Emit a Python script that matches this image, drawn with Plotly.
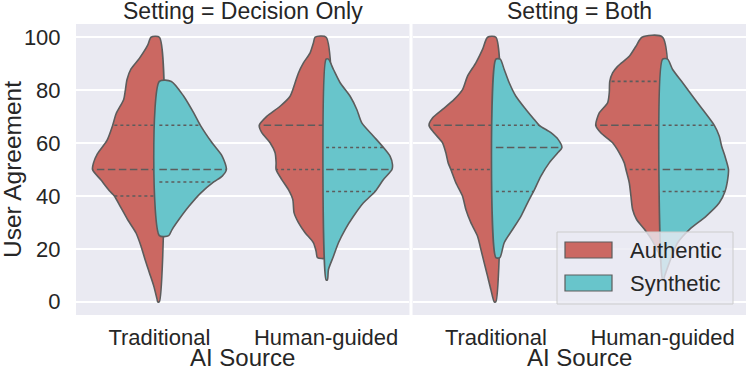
import numpy as np
import plotly.graph_objects as go
from plotly.subplots import make_subplots

settings = ["Decision Only", "Both"]
sources = ["Traditional", "Human-guided"]
groups = ["Authentic", "Synthetic"]
colors = {"Authentic": "#cb6862", "Synthetic": "#68c5cb"}
edge = "#5c5c5c"

# violin outlines: agreement level -> half width (category units)
do_trad_auth_y = [0, 1, 6, 11, 16, 21, 26, 31, 36, 40, 42, 46, 50, 52.5, 56, 61, 66.7, 71, 76.5, 80, 84, 88, 92, 97, 100]
do_trad_auth_w = [0.010, 0.014, 0.034, 0.060, 0.086, 0.110, 0.140, 0.190, 0.234, 0.270, 0.300, 0.350, 0.401,
                  0.395, 0.371, 0.314, 0.280, 0.260, 0.214, 0.204, 0.194, 0.170, 0.120, 0.070, 0.050]
do_trad_syn_y = [25, 27.3, 31, 36, 41, 45.3, 47.5, 50, 55, 60, 66.7, 71.4, 77.7, 83.3]
do_trad_syn_w = [0.056, 0.076, 0.116, 0.176, 0.246, 0.326, 0.377, 0.402, 0.377, 0.317, 0.246, 0.206, 0.146, 0.072]

do_hg_auth_y = [16.7, 19.1, 22.3, 26.1, 29.9, 33.6, 38.7, 42.4, 46.2, 50, 52.5, 56.3, 60.1, 63.9, 66.7,
                70.1, 73.9, 77.7, 82.8, 86.5, 90.3, 94.1, 97.9, 100]
do_hg_auth_w = [0.052, 0.060, 0.076, 0.126, 0.166, 0.192, 0.200, 0.226, 0.266, 0.300, 0.300, 0.306, 0.336,
                0.386, 0.401, 0.356, 0.276, 0.216, 0.186, 0.166, 0.136, 0.096, 0.076, 0.066]
do_hg_syn_y = [8.3, 12.2, 17.2, 22.3, 27.3, 32.3, 37.4, 41.7, 46.2, 50, 51.9, 55, 58.3, 62.6, 67.6,
               72.7, 77.7, 82.8, 87.8, 91.7]
do_hg_syn_w = [0.008, 0.014, 0.044, 0.074, 0.114, 0.164, 0.224, 0.294, 0.344, 0.395, 0.398, 0.384, 0.344,
               0.284, 0.214, 0.184, 0.144, 0.084, 0.044, 0.014]

both_trad_auth_y = [0, 4.6, 9.7, 14.7, 19.8, 24.8, 29.9, 34.9, 39.9, 45, 50, 52.5, 56.3, 60.1, 63.9, 66.7,
                    69.5, 72.7, 76.5, 80.2, 85.3, 90.3, 95.4, 100]
both_trad_auth_w = [0.010, 0.030, 0.050, 0.070, 0.090, 0.110, 0.150, 0.180, 0.200, 0.240, 0.270, 0.286, 0.300,
                    0.320, 0.371, 0.401, 0.380, 0.320, 0.250, 0.200, 0.170, 0.120, 0.080, 0.050]
both_trad_syn_y = [16.7, 22.3, 27.3, 32.3, 37.4, 41.7, 47.5, 52.5, 56.3, 58.3, 61.3, 63.9, 66.7, 68.9,
                   72.7, 77.7, 82.8, 87.8, 91.7]
both_trad_syn_w = [0.024, 0.050, 0.100, 0.150, 0.190, 0.226, 0.270, 0.320, 0.371, 0.396, 0.374, 0.330, 0.260,
                   0.230, 0.180, 0.120, 0.080, 0.050, 0.026]

both_hg_auth_y = [16.7, 18.5, 23.5, 27.3, 31.1, 34.9, 39.9, 45, 50, 52.5, 56.3, 60.1, 63.9, 66.7, 71.4,
                  75.2, 79, 83.3, 86.5, 89, 92.8, 96.6, 100]
both_hg_auth_w = [0.006, 0.024, 0.066, 0.108, 0.156, 0.180, 0.190, 0.200, 0.220, 0.230, 0.260, 0.300, 0.371,
                  0.401, 0.380, 0.330, 0.320, 0.317, 0.300, 0.270, 0.200, 0.160, 0.124]
both_hg_syn_y = [8.3, 9.7, 14.7, 22.3, 27.3, 32.3, 37.4, 41.7, 46.2, 50, 55, 58.8, 62.6, 66.7, 72.7,
                 77.7, 82.8, 87.8, 91.7]
both_hg_syn_w = [0.006, 0.012, 0.040, 0.090, 0.160, 0.260, 0.340, 0.374, 0.390, 0.395, 0.374, 0.354, 0.340,
                 0.310, 0.240, 0.180, 0.120, 0.060, 0.030]

# quartiles: q1, median, q3
do_trad_auth_q = [40, 50, 66.7]
do_trad_syn_q = [45.3, 50, 66.7]
do_hg_auth_q = [50, 66.7, 66.7]
do_hg_syn_q = [41.7, 50, 58.3]
both_trad_auth_q = [50, 66.7, 66.7]
both_trad_syn_q = [41.7, 58.3, 66.7]
both_hg_auth_q = [50, 66.7, 83.3]
both_hg_syn_q = [41.7, 50, 66.7]

violins = {
    ("Decision Only", "Traditional", "Authentic"): (do_trad_auth_y, do_trad_auth_w, do_trad_auth_q),
    ("Decision Only", "Traditional", "Synthetic"): (do_trad_syn_y, do_trad_syn_w, do_trad_syn_q),
    ("Decision Only", "Human-guided", "Authentic"): (do_hg_auth_y, do_hg_auth_w, do_hg_auth_q),
    ("Decision Only", "Human-guided", "Synthetic"): (do_hg_syn_y, do_hg_syn_w, do_hg_syn_q),
    ("Both", "Traditional", "Authentic"): (both_trad_auth_y, both_trad_auth_w, both_trad_auth_q),
    ("Both", "Traditional", "Synthetic"): (both_trad_syn_y, both_trad_syn_w, both_trad_syn_q),
    ("Both", "Human-guided", "Authentic"): (both_hg_auth_y, both_hg_auth_w, both_hg_auth_q),
    ("Both", "Human-guided", "Synthetic"): (both_hg_syn_y, both_hg_syn_w, both_hg_syn_q),
}

fig = make_subplots(rows=1, cols=2, shared_yaxes=True, horizontal_spacing=0.0045,
                    subplot_titles=["Setting = " + s for s in settings])

for (setting, source, group), (ys, ws, qs) in violins.items():
    col = settings.index(setting) + 1
    c = sources.index(source)
    side = -1 if group == "Authentic" else 1
    xs = [c] + [c + side * w for w in ws] + [c, c]
    yy = [ys[0]] + ys + [ys[-1], ys[0]]
    fig.add_trace(go.Scatter(
        x=xs, y=yy, mode="lines", fill="toself", fillcolor=colors[group],
        line=dict(color=edge, width=1.6, shape="spline", smoothing=0.7),
        hoverinfo="skip", showlegend=False), row=1, col=col)

    # quartile lines, median drawn last
    q1, med, q3 = qs
    for q, dash in [(q1, "3px,3px"), (q3, "3px,3px"), (med, "7.5px,3.5px")]:
        if dash.startswith("3px") and q == med:
            continue
        half = float(np.interp(q, ys, ws))
        fig.add_trace(go.Scatter(
            x=[c, c + side * half], y=[q, q], mode="lines",
            line=dict(color=edge, width=1.6, dash=dash),
            hoverinfo="skip", showlegend=False), row=1, col=col)

txt = "#262626"
fig.update_xaxes(range=[-0.5, 1.5], tickvals=[0, 1], ticktext=sources, showgrid=False,
                 zeroline=False, ticks="outside", ticklen=3, tickcolor="rgba(0,0,0,0)",
                 automargin=False, tickfont=dict(size=22, color=txt))
fig.update_yaxes(range=[-5, 105], tickvals=[0, 20, 40, 60, 80, 100], gridcolor="white",
                 gridwidth=1.5, zeroline=False, automargin=False, tickfont=dict(size=22, color=txt))
fig.update_yaxes(ticks="outside", ticklen=10, tickcolor="rgba(0,0,0,0)", row=1, col=1)
fig.update_annotations(font=dict(size=23, color=txt), yshift=-1, borderpad=0)

# axis titles
for i in range(len(settings)):
    dom = fig.layout["xaxis" if i == 0 else "xaxis2"].domain
    fig.add_annotation(xref="paper", yref="paper", x=(dom[0] + dom[1]) / 2, y=0,
                       yshift=-58, xanchor="center", yanchor="bottom", text="AI Source",
                       showarrow=False, font=dict(size=24, color=txt))
fig.add_annotation(xref="paper", yref="paper", x=0, y=0.5, xshift=-78, xanchor="left",
                   yanchor="middle", text="User Agreement", textangle=-90, showarrow=False,
                   borderpad=0, font=dict(size=24.5, color=txt))

# legend box (matplotlib style), placed in the lower right of the right panel
def px(x, y):
    return (x - 76) / 670, (315 - y) / 291

x0, y0 = px(557, 232)
x1, y1 = px(733, 304)
fig.add_shape(type="rect", xref="paper", yref="paper", x0=x0, y0=y0, x1=x1, y1=y1,
              fillcolor="rgba(234,234,242,0.8)", line=dict(color="#cccccc", width=1), layer="above")
for i, g in enumerate(groups):
    top = 242 + i * 33
    a0, b0 = px(565, top)
    a1, b1 = px(612, top + 16)
    fig.add_shape(type="rect", xref="paper", yref="paper", x0=a0, y0=b0, x1=a1, y1=b1,
                  fillcolor=colors[g], line=dict(color=edge, width=1.2), layer="above")
    tx, ty = px(628, top + 8)
    fig.add_annotation(xref="paper", yref="paper", x=tx, y=ty, text=g, showarrow=False,
                       xanchor="left", yanchor="middle", font=dict(size=22, color=txt))

fig.update_layout(
    width=747, height=374,
    margin=dict(l=76, r=1, t=24, b=59),
    paper_bgcolor="white", plot_bgcolor="#eaeaf2",
    font=dict(family="Liberation Sans, Arial, sans-serif", color=txt),
    showlegend=False,
)

fig.write_html("out.html", config={"displayModeBar": False},
               post_script="document.body.style.margin='0px';")
